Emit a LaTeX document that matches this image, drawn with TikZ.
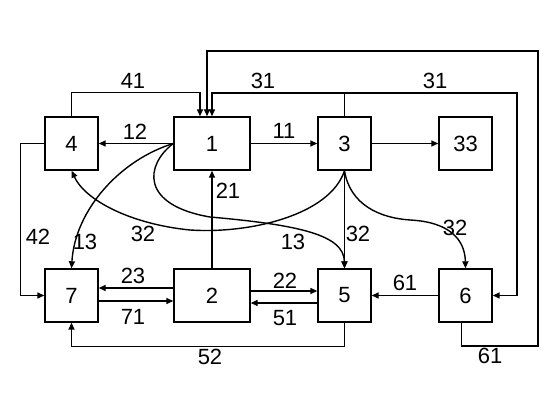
\documentclass[tikz,border=0pt]{standalone}
\usepackage{fontspec}
\setmainfont{Liberation Sans}
\usetikzlibrary{arrows.meta}
\begin{document}
\begin{tikzpicture}[x=1pt, y=-1pt, line width=1.4pt,
    font=\fontsize{22}{25}\selectfont,
    blk/.style={draw, minimum width=53pt, minimum height=53pt, inner sep=0pt},
    wide/.style={blk, minimum width=76pt},
    arr/.style={-{Triangle[length=7pt, width=6pt]}},
    lbl/.style={inner sep=0pt}]
  \useasboundingbox (0,0) rectangle (544,403);
  % blocks
  \node[blk] (b4) at (71.5,143.5) {4};
  \node[wide] (b1) at (212,143.5) {1};
  \node[blk] (b3) at (344.5,143.5) {3};
  \node[blk] (b33) at (465.5,143.5) {33};
  \node[blk] (b7) at (71.5,295.5) {7};
  \node[wide] (b2) at (212,295.5) {2};
  \node[blk] (b5) at (344.5,295.5) {5};
  \node[blk] (b6) at (465.5,295.5) {6};
  % top row
  \draw[arr] (b1.west) -- (b4.east);
  \node[lbl] at (135,132) {12};
  \draw[arr] (b1.east) -- (b3.west);
  \node[lbl] at (284,131) {11};
  \draw[arr] (b3.east) -- (b33.west);
  % feedback loops over the top
  \draw[arr] (b4.north) -- ++(0,-24) -| ([xshift=-12pt]b1.north);
  \node[lbl] at (133,81) {41};
  \coordinate (t31) at (b3.north |- 0,93);
  \coordinate (c31) at (517,93);
  \draw (b3.north) -- (t31);
  \draw[arr] (t31) -| (b1.north);
  \draw[arr] (t31) -- (c31) |- (b6.east);
  \node[lbl] at (263,81) {31};
  \node[lbl] at (435,81) {31};
  \coordinate (c61a) at (538,346);
  \coordinate (c61b) at (538,51);
  \draw[arr] ([xshift=-4pt]b6.south) |- (c61a) -- (c61b) -| ([xshift=-5pt]b1.north);
  \node[lbl] at (490,356) {61};
  % left side
  \draw[arr] (b4.west) -- ++(-24,0) |- (b7.west);
  \node[lbl] at (38,237) {42};
  % curves from 1 and 3
  \draw[arr] (b1.west) .. controls (120,160) and (75,210) .. (b7.north);
  \node[lbl] at (85,242) {13};
  \draw[arr] (b1.west) .. controls (145,165) and (140,205) .. (210,217)
    .. controls (300,225) and (344,235) .. (b5.north);
  \node[lbl] at (293,242) {13};
  \draw[arr] (b3.south) .. controls (330,215) and (250,234) .. (190,230)
    .. controls (130,224) and (85,200) .. (b4.south);
  \node[lbl] at (143,234) {32};
  \draw[arr] (b3.south) -- (b5.north);
  \node[lbl] at (358,234) {32};
  \draw[arr] (b3.south) .. controls (350,205) and (380,218) .. (410,220)
    .. controls (450,222) and (465,240) .. (b6.north);
  \node[lbl] at (455,228) {32};
  \draw[arr] (b2.north) -- (b1.south);
  \node[lbl] at (228,191) {21};
  % bottom row
  \draw[arr] ([yshift=7.5pt]b2.west) -- ([yshift=7.5pt]b7.east);
  \node[lbl] at (133,276) {23};
  \draw[arr] ([yshift=-5.5pt]b7.east) -- ([yshift=-5.5pt]b2.west);
  \node[lbl] at (133,317) {71};
  \draw[arr] ([yshift=4.5pt]b2.east) -- ([yshift=4.5pt]b5.west);
  \node[lbl] at (285,281) {22};
  \draw[arr] ([yshift=-7.5pt]b5.west) -- ([yshift=-7.5pt]b2.east);
  \node[lbl] at (285,318) {51};
  \draw[arr] (b6.west) -- (b5.east);
  \node[lbl] at (405,283) {61};
  \draw[arr] (b5.south) -- ++(0,24) -| (b7.south);
  \node[lbl] at (210,357) {52};
\end{tikzpicture}
\end{document}
